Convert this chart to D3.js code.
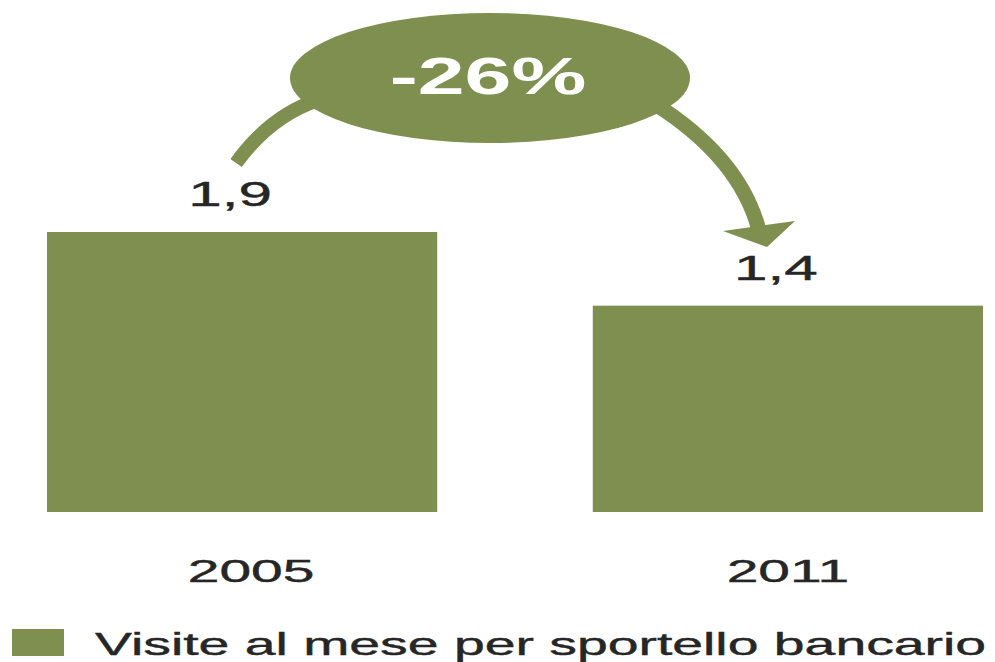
<!DOCTYPE html>
<html>
<head>
<meta charset="utf-8">
<script src="https://cdn.jsdelivr.net/npm/d3@7/dist/d3.min.js"></script>
<style>
  html, body { margin: 0; padding: 0; background: #ffffff; }
  svg { display: block; }
  text { font-family: "Liberation Sans", Arial, sans-serif; }
</style>
</head>
<body>
<script>
// Visits per month per bank branch
const years = ["2005", "2011"];
const visits = [1.9, 1.4];
const valueLabels = ["1,9", "1,4"];
const changeLabel = ["-26%"];
const legendLabel = ["Visite al mese per sportello bancario"];

const W = 995, H = 662;
const green = "#7e8f4f";
const ink = "#262626";
const stretch = 1.72; // wide lettering

const svg = d3.select("body").append("svg")
  .attr("width", W).attr("height", H);

const x = d3.scaleBand()
  .domain(years)
  .range([47, 983])
  .paddingInner(0.285)
  .paddingOuter(0);

const y = d3.scaleLinear()
  .domain([0, d3.max(visits)])
  .range([512, 232]);

const rows = years.map((yr, i) => ({ year: yr, v: visits[i], label: valueLabels[i] }));

// bars
svg.append("g").selectAll("rect")
  .data(rows)
  .join("rect")
  .attr("x", d => x(d.year))
  .attr("y", d => y(d.v))
  .attr("width", x.bandwidth())
  .attr("height", d => y(0) - y(d.v))
  .attr("fill", green);

// value labels above bars
svg.append("g").selectAll("text")
  .data(rows)
  .join("text")
  .attr("transform", d => `translate(${x(d.year) + x.bandwidth() / 2 - 12},${y(d.v) - 26}) scale(${stretch},1)`)
  .attr("text-anchor", "middle")
  .attr("font-size", 35)
  .attr("fill", ink)
  .attr("stroke", ink)
  .attr("stroke-width", 0.4)
  .text(d => d.label);

// category axis (labels only)
const xAxis = svg.append("g")
  .attr("transform", `translate(0,${y(0)})`)
  .call(d3.axisBottom(x).tickSize(0).tickPadding(0));
xAxis.select(".domain").remove();
xAxis.selectAll(".tick text")
  .attr("y", 0).attr("dy", 0)
  .attr("transform", (d, i) => `translate(${i === 0 ? 9 : 0},70) scale(1.78,1)`)
  .attr("font-size", 32)
  .attr("font-family", "Liberation Sans, Arial, sans-serif")
  .attr("fill", ink)
  .attr("stroke", ink)
  .attr("stroke-width", 0.4);

// change badge with curved arrows
const cx0 = x(years[0]) + x.bandwidth() / 2;
const cx1 = x(years[1]) + x.bandwidth() / 2;
const badge = svg.append("g");

const leftArrow = d3.path();
leftArrow.moveTo(318, 100);
leftArrow.quadraticCurveTo(270, 116, cx0 - 6, 163);
badge.append("path")
  .attr("d", leftArrow.toString())
  .attr("fill", "none")
  .attr("stroke", green)
  .attr("stroke-width", 14);

const rightArrow = d3.path();
rightArrow.moveTo(655, 104);
rightArrow.quadraticCurveTo(740, 158, cx1 - 29, 230);
badge.append("path")
  .attr("d", rightArrow.toString())
  .attr("fill", "none")
  .attr("stroke", green)
  .attr("stroke-width", 15);

badge.append("path")
  .attr("d", d3.line()([[723, 231], [795, 221], [767, 247]]) + "Z")
  .attr("fill", green);

badge.append("ellipse")
  .attr("cx", 490).attr("cy", 78)
  .attr("rx", 200).attr("ry", 65)
  .attr("fill", green);

badge.append("text")
  .attr("transform", `translate(488,94) scale(1.62,1)`)
  .attr("text-anchor", "middle")
  .attr("font-size", 52)
  .attr("font-weight", "bold")
  .attr("fill", "#ffffff")
  .text(changeLabel[0]);

// legend
const legend = svg.append("g");
legend.append("rect")
  .attr("x", 12).attr("y", 629)
  .attr("width", 52).attr("height", 27)
  .attr("fill", green);
legend.append("text")
  .attr("transform", `translate(95,655) scale(1.73,1)`)
  .attr("font-size", 32)
  .attr("fill", ink)
  .attr("stroke", ink)
  .attr("stroke-width", 0.4)
  .text(legendLabel[0]);
</script>
</body>
</html>
